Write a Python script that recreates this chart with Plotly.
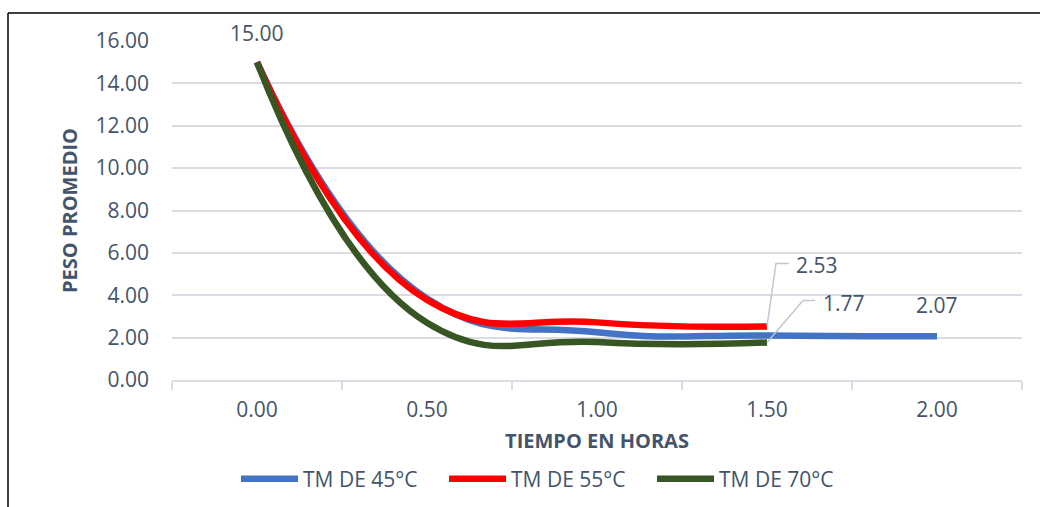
import plotly.graph_objects as go

# ---- data ----
categories = ["0.00", "0.50", "1.00", "1.50", "2.00"]
tm45 = [15.00, 3.85, 2.25, 2.10, 2.07]
tm55 = [15.00, 3.78, 2.72, 2.53]
tm70 = [15.00, 2.70, 1.79, 1.77]
series_names = ["TM DE 45°C", "TM DE 55°C", "TM DE 70°C"]
series_colors = ["#4472C4", "#FF0000", "#375623"]

W, H = 1040, 507
ML, MR, MT, MB = 172, 18, 41, 127
PW, PH = W - ML - MR, H - MT - MB

def px2paper_x(px):
    return (px - ML) / PW

def px2paper_y(py):
    return (H - MB - py) / PH

FONT = "Open Sans, Lato, Noto Sans, sans-serif"
TXT = "#44546A"

fig = go.Figure()
for name, vals, col in zip(series_names, [tm45, tm55, tm70], series_colors):
    fig.add_trace(go.Scatter(
        x=categories[:len(vals)], y=vals, name=name, mode="lines",
        line=dict(color=col, width=6.5, shape="spline", smoothing=1.3),
        hoverinfo="skip",
    ))

fig.update_layout(
    width=W, height=H,
    margin=dict(l=ML, r=MR, t=MT, b=MB, autoexpand=False),
    paper_bgcolor="white", plot_bgcolor="white",
    font=dict(family=FONT, size=21, color=TXT),
    showlegend=True,
    legend=dict(
        orientation="h", x=px2paper_x(548), xanchor="center",
        y=px2paper_y(479), yanchor="middle",
        font=dict(family=FONT, size=21, color=TXT),
        itemwidth=57, entrywidth=136, entrywidthmode="pixels",
        bgcolor="rgba(0,0,0,0)", traceorder="normal",
    ),
    xaxis=dict(
        type="category", categoryorder="array", categoryarray=categories,
        range=[-0.5, len(categories) - 0.5],
        showgrid=False, showline=True, linecolor="#D9DDE3", linewidth=1.5,
        ticks="outside", tickson="boundaries", ticklen=8, tickcolor="#D9DDE3",
        tickwidth=1.5, ticklabelstandoff=10,
        tickfont=dict(family=FONT, size=21, color=TXT),
        title=dict(text="<b>TIEMPO EN HORAS</b>", standoff=12,
                   font=dict(family=FONT, size=20, color=TXT)),
        zeroline=False, fixedrange=True,
    ),
    yaxis=dict(
        range=[0, 16], dtick=2, tickformat=".2f",
        showgrid=True, gridcolor="#D9DDE3", gridwidth=1.5,
        showline=False, zeroline=False, ticks="", ticklabelstandoff=22,
        tickfont=dict(family=FONT, size=21, color=TXT),
        title=dict(text="<b>PESO PROMEDIO</b>", standoff=12,
                   font=dict(family=FONT, size=20, color=TXT)),
        fixedrange=True,
    ),
)

# ---- data labels (category axis: positions by category index) ----
i45, i55, i70 = len(tm45) - 1, len(tm55) - 1, len(tm70) - 1
fig.add_annotation(x=0, y=tm70[0], text=f"{tm70[0]:.2f}", showarrow=False,
                   yshift=29, font=dict(family=FONT, size=21, color=TXT))
fig.add_annotation(x=i45, y=tm45[-1], text=f"{tm45[-1]:.2f}",
                   showarrow=False, yshift=31, font=dict(family=FONT, size=21, color=TXT))
fig.add_annotation(x=i55, y=tm55[-1], text=f"{tm55[-1]:.2f}",
                   showarrow=False, xshift=50, yshift=61, font=dict(family=FONT, size=21, color=TXT))
fig.add_shape(type="path", xref="x", yref="y", xsizemode="pixel", ysizemode="pixel",
              xanchor=i55, yanchor=tm55[-1],
              path="M0,0 L9,63 L22,63", line=dict(color="#BFC7D3", width=1.5))
fig.add_annotation(x=i70, y=tm70[-1], text=f"{tm70[-1]:.2f}",
                   showarrow=False, xshift=77, yshift=40, font=dict(family=FONT, size=21, color=TXT))
fig.add_shape(type="path", xref="x", yref="y", xsizemode="pixel", ysizemode="pixel",
              xanchor=i70, yanchor=tm70[-1],
              path="M0,0 L36,42 L48,42", line=dict(color="#BFC7D3", width=1.5))

# ---- chart border (partially visible) ----
fig.add_shape(type="line", xref="paper", yref="paper",
              x0=px2paper_x(8), x1=px2paper_x(8), y0=px2paper_y(13), y1=px2paper_y(520),
              line=dict(color="black", width=1.5), layer="above")
fig.add_shape(type="line", xref="paper", yref="paper",
              x0=px2paper_x(8), x1=px2paper_x(1050), y0=px2paper_y(13), y1=px2paper_y(13),
              line=dict(color="black", width=1.5), layer="above")

fig.write_html("out.html")
